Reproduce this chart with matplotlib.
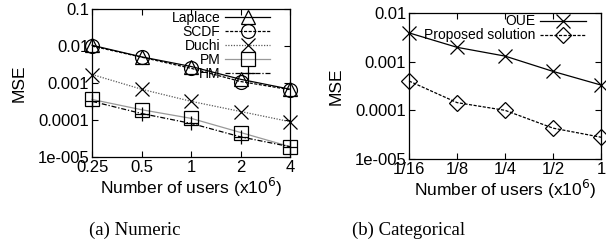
import numpy as np
import matplotlib
matplotlib.use("Agg")
import matplotlib.pyplot as plt

plt.rcParams['font.family'] = ['Liberation Sans', 'DejaVu Sans']

# numeric panel
users_num = [0.25, 0.5, 1, 2, 4]
users_num_labels = ["0.25", "0.5", "1", "2", "4"]
laplace = [0.0105, 0.0051, 0.0028, 0.00126, 0.00068]
scdf = [0.0100, 0.0050, 0.0025, 0.00110, 0.00066]
duchi = [0.0017, 0.00068, 0.00032, 0.00017, 0.00009]
pm = [0.00036, 0.00019, 0.000111, 0.000046, 0.000019]
hm = [0.00032, 0.00015, 0.000081, 0.000035, 0.000019]

# categorical panel
users_cat = [1/16, 1/8, 1/4, 1/2, 1]
users_cat_labels = ["1/16", "1/8", "1/4", "1/2", "1"]
oue = [0.0039, 0.00197, 0.0013, 0.00063, 0.00033]
proposed = [0.0004, 0.000144, 0.0001, 0.000043, 0.000028]

yticks_num = [1e-5, 1e-4, 1e-3, 1e-2, 1e-1]
yticks_num_labels = ["1e-005", "0.0001", "0.001", "0.01", "0.1"]
yticks_cat = [1e-5, 1e-4, 1e-3, 1e-2]
yticks_cat_labels = ["1e-005", "0.0001", "0.001", "0.01"]

fig = plt.figure(figsize=(6.06, 2.45), dpi=100)
ax1 = fig.add_axes([0.152, 0.359, 0.327, 0.604])
ax2 = fig.add_axes([0.675, 0.351, 0.317, 0.596])

mk = dict(markersize=10, markerfacecolor='none', markeredgewidth=0.9, linewidth=0.9)

ax1.plot(users_num, laplace, color='black', linestyle='-', marker='^', label='Laplace', **mk)
ax1.plot(users_num, scdf, color='black', linestyle=(0, (2.5, 1.2)), marker='o', label='SCDF', **mk)
ax1.plot(users_num, duchi, color='0.35', linestyle=(0, (1, 1.2)), marker='x', markeredgecolor='black',
         label='Duchi', **mk)
ax1.plot(users_num, pm, color='0.6', linestyle='-', marker='s', markeredgecolor='black', label='PM', **mk)
ax1.plot(users_num, hm, color='black', linestyle=(0, (4, 1.5, 1, 1.5)), marker='+', label='HM', **mk)

ax2.plot(users_cat, oue, color='black', linestyle='-', marker='x', label='OUE', **mk)
ax2.plot(users_cat, proposed, color='black', linestyle=(0, (2.5, 1.2)), marker='D', label='Proposed solution',
         **dict(mk, markersize=8))

for ax, xs, xl, yt, ytl, ylim, anchor in [
    (ax1, users_num, users_num_labels, yticks_num, yticks_num_labels, (1e-5, 0.1), (0.9, 0.985)),
    (ax2, users_cat, users_cat_labels, yticks_cat, yticks_cat_labels, (1e-5, 0.01), (0.92, 0.99)),
]:
    ax.set_xscale('log', base=2)
    ax.set_yscale('log')
    ax.set_xlim(xs[0], xs[-1])
    ax.set_ylim(*ylim)
    ax.set_xticks(xs)
    ax.set_xticklabels(xl)
    ax.set_yticks(yt)
    ax.set_yticklabels(ytl)
    ax.minorticks_off()
    ax.tick_params(direction='in', top=True, right=True, length=4, width=0.8, labelsize=12, pad=2)
    ax.set_ylabel('MSE', fontsize=12.5, labelpad=8)
    ax.set_xlabel(r'Number of users (x10$^{6}$)', fontsize=12.5, labelpad=1)
    for s in ax.spines.values():
        s.set_linewidth(0.9)
    for ln in ax.get_lines():
        ln.set_clip_on(False)
    ax.legend(loc='upper right', bbox_to_anchor=anchor, frameon=False, fontsize=10, markerfirst=False,
              handlelength=3.3, handletextpad=0.3, labelspacing=0.0, borderaxespad=0.0, borderpad=0.0)

fig.text(0.223, 0.06, '(a) Numeric', family='Liberation Serif', fontsize=13.5, ha='center', va='center')
fig.text(0.675, 0.06, '(b) Categorical', family='Liberation Serif', fontsize=13.5, ha='center', va='center')

fig.savefig('out.png', dpi=100)
